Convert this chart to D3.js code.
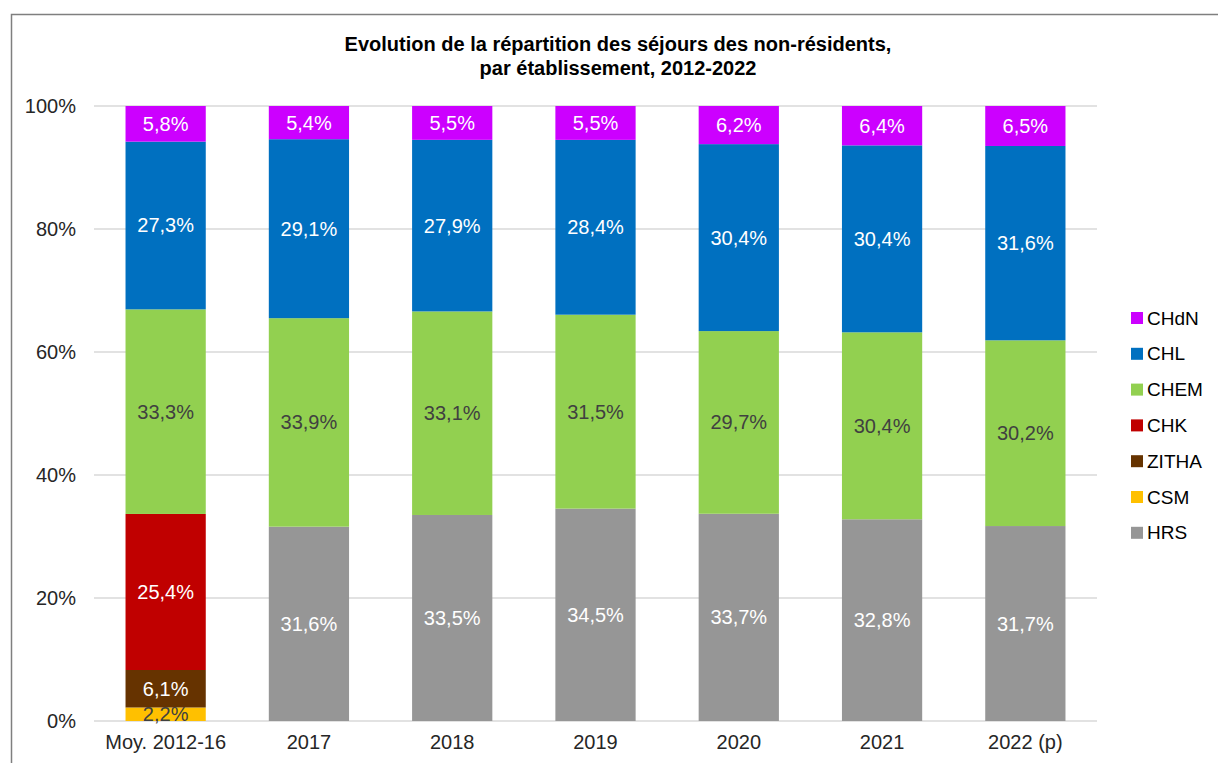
<!DOCTYPE html>
<html>
<head>
<meta charset="utf-8">
<script src="https://cdn.jsdelivr.net/npm/d3@7"></script>
<style>
  body { margin: 0; background: #fff; }
  svg { font-family: "Liberation Sans", Arial, sans-serif; }
</style>
</head>
<body>
<div id="chart"></div>
<script>
// categories and series (values in %)
const categories = ["Moy. 2012-16", "2017", "2018", "2019", "2020", "2021", "2022 (p)"];
const seriesNames = ["HRS", "CSM", "ZITHA", "CHK", "CHEM", "CHL", "CHdN"];
const HRS   = [0,    31.6, 33.5, 34.5, 33.7, 32.8, 31.7];
const CSM   = [2.2,  0,    0,    0,    0,    0,    0];
const ZITHA = [6.1,  0,    0,    0,    0,    0,    0];
const CHK   = [25.4, 0,    0,    0,    0,    0,    0];
const CHEM  = [33.3, 33.9, 33.1, 31.5, 29.7, 30.4, 30.2];
const CHL   = [27.3, 29.1, 27.9, 28.4, 30.4, 30.4, 31.6];
const CHdN  = [5.8,  5.4,  5.5,  5.5,  6.2,  6.4,  6.5];
const yTicks = [0, 0.2, 0.4, 0.6, 0.8, 1];
const titleLines = ["Evolution de la répartition des séjours des non-résidents,", "par établissement, 2012-2022"];

const seriesValues = {HRS, CSM, ZITHA, CHK, CHEM, CHL, CHdN};
const colors = {CHdN:"#CC00FF", CHL:"#0070C0", CHEM:"#92D050", CHK:"#C00000", ZITHA:"#663300", CSM:"#FFC000", HRS:"#969696"};
const labelColor = {CHdN:"#fff", CHL:"#fff", CHEM:"#404040", CHK:"#fff", ZITHA:"#fff", CSM:"#404040", HRS:"#fff"};

const W = 1218, H = 763;
const margin = {top: 106, right: 121, bottom: 42, left: 94};
const width = W - margin.left - margin.right,
      height = H - margin.top - margin.bottom;

const data = categories.map((c, i) => {
  const row = {cat: c};
  seriesNames.forEach(s => row[s] = seriesValues[s][i]);
  return row;
});

const svg = d3.select("#chart").append("svg")
  .attr("width", W).attr("height", H);

// outer frame (cropped on right/bottom like the reference)
svg.append("rect")
  .attr("x", 11.5).attr("y", 14.5)
  .attr("width", W + 10).attr("height", H + 10)
  .attr("fill", "none").attr("stroke", "#7f7f7f").attr("stroke-width", 1.5);

// title
svg.append("g").selectAll("text")
  .data(titleLines).enter().append("text")
  .attr("x", 618).attr("y", (d, i) => 51 + i * 24)
  .attr("text-anchor", "middle")
  .attr("font-size", "20px").attr("font-weight", "bold").attr("fill", "#000")
  .text(d => d);

const g = svg.append("g").attr("transform", "translate(" + margin.left + "," + margin.top + ")");

const x = d3.scaleBand().domain(categories).range([0, width]).paddingInner(0.44).paddingOuter(0.22);
const y = d3.scaleLinear().domain([0, 1]).range([height, 0]);

// gridlines
g.append("g").selectAll("line")
  .data(yTicks).enter().append("line")
  .attr("x1", 0).attr("x2", width)
  .attr("y1", d => y(d)).attr("y2", d => y(d))
  .attr("stroke", "#d9d9d9").attr("stroke-width", 1.5);

// y axis labels
const yAxis = g.append("g").call(d3.axisLeft(y).tickValues(yTicks).tickFormat(d3.format(".0%")).tickSize(0).tickPadding(18));
yAxis.select(".domain").remove();
yAxis.selectAll("text").attr("font-size", "20px").attr("fill", "#262626").attr("font-family", "Liberation Sans, Arial, sans-serif");

// x axis labels
const xAxis = g.append("g").attr("transform", "translate(0," + height + ")")
  .call(d3.axisBottom(x).tickSize(0).tickPadding(14));
xAxis.select(".domain").remove();
xAxis.selectAll("text").attr("font-size", "20px").attr("fill", "#262626").attr("font-family", "Liberation Sans, Arial, sans-serif");

// stacked bars (normalized to 100%)
const stacked = d3.stack().keys(seriesNames).offset(d3.stackOffsetExpand)(data);

const layers = g.append("g").selectAll("g")
  .data(stacked).enter().append("g")
  .attr("fill", d => colors[d.key]);

layers.selectAll("rect")
  .data(d => d.filter(p => p[1] - p[0] > 0))
  .enter().append("rect")
  .attr("x", d => x(d.data.cat))
  .attr("width", x.bandwidth())
  .attr("y", d => y(d[1]))
  .attr("height", d => y(d[0]) - y(d[1]));

// value labels
const fmt = v => v.toFixed(1).replace(".", ",") + "%";
const labels = g.append("g");
stacked.forEach(layer => {
  layer.forEach(p => {
    const v = p.data[layer.key];
    if (v <= 0) return;
    labels.append("text")
      .attr("x", x(p.data.cat) + x.bandwidth() / 2)
      .attr("y", y((p[0] + p[1]) / 2))
      .attr("dy", "0.35em")
      .attr("text-anchor", "middle")
      .attr("font-size", "20px")
      .attr("fill", labelColor[layer.key])
      .text(fmt(v));
  });
});

// legend (top to bottom: CHdN ... HRS)
const legendItems = seriesNames.slice().reverse();
const legend = svg.append("g").attr("transform", "translate(1131,318)");
const li = legend.selectAll("g").data(legendItems).enter().append("g")
  .attr("transform", (d, i) => "translate(0," + i * 35.8 + ")");
li.append("rect").attr("x", 0).attr("y", -6).attr("width", 12).attr("height", 12)
  .attr("fill", d => colors[d]);
li.append("text").attr("x", 16).attr("y", 0).attr("dy", "0.35em")
  .attr("font-size", "19px").attr("fill", "#000").text(d => d);
</script>
</body>
</html>
